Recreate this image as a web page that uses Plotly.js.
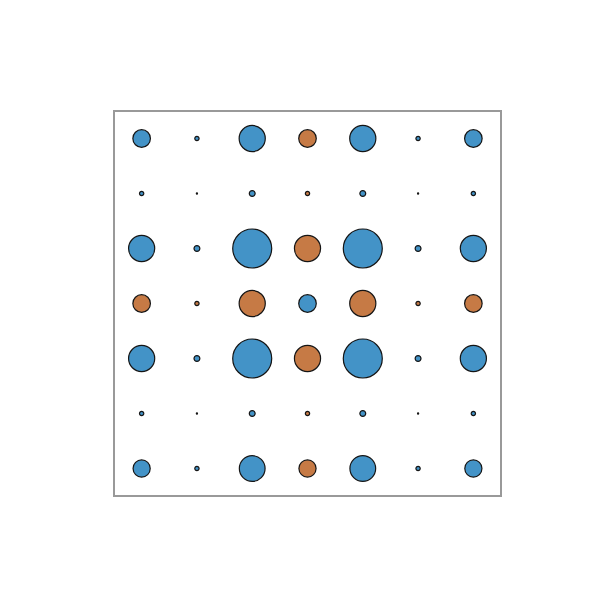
<!DOCTYPE html>
<html>
<head>
<meta charset="utf-8">
<script src="https://cdn.plot.ly/plotly-3.0.1.min.js"></script>
<style>html,body{margin:0;padding:0;background:#fff;}#chart{width:600px;height:600px;}</style>
</head>
<body>
<div id="chart"></div>
<script>
// Matrix values (rows top to bottom, columns left to right)
const rowLabels = [0, 1, 2, 3, 4, 5, 6];
const colLabels = [0, 1, 2, 3, 4, 5, 6];
const row0 = [0.45, 0.11, 0.67, -0.45, 0.67, 0.11, 0.45];
const row1 = [0.11, 0.03, 0.15, -0.11, 0.15, 0.03, 0.11];
const row2 = [0.67, 0.15, 1.00, -0.67, 1.00, 0.15, 0.67];
const row3 = [-0.45, -0.11, -0.67, 0.45, -0.67, -0.11, -0.45];
const row4 = [0.67, 0.15, 1.00, -0.67, 1.00, 0.15, 0.67];
const row5 = [0.11, 0.03, 0.15, -0.11, 0.15, 0.03, 0.11];
const row6 = [0.44, 0.11, 0.66, -0.44, 0.66, 0.11, 0.44];
const matrix = [row0, row1, row2, row3, row4, row5, row6];

const posColor = '#4393c7';
const negColor = '#c67a45';
const maxDiameter = 39;

const pos = {x: [], y: [], s: []};
const neg = {x: [], y: [], s: []};
matrix.forEach((row, i) => {
  row.forEach((v, j) => {
    const t = v >= 0 ? pos : neg;
    t.x.push(colLabels[j]);
    t.y.push(rowLabels[i]);
    t.s.push(Math.abs(v) * maxDiameter);
  });
});

function trace(d, color) {
  return {
    type: 'scatter', mode: 'markers', x: d.x, y: d.y,
    marker: {size: d.s, sizemode: 'diameter', color: color, opacity: 1,
             line: {color: '#151515', width: 1.2}},
    hoverinfo: 'skip', showlegend: false, cliponaxis: false
  };
}

const layout = {
  width: 600, height: 600,
  margin: {l: 114, r: 99, t: 111, b: 104},
  paper_bgcolor: '#fff', plot_bgcolor: '#fff',
  xaxis: {range: [-0.5, 6.5], showgrid: false, zeroline: false, showticklabels: false, ticks: '', showline: false},
  yaxis: {range: [6.5, -0.5], showgrid: false, zeroline: false, showticklabels: false, ticks: '', showline: false},
  shapes: [{type: 'rect', xref: 'paper', yref: 'paper', x0: 0, x1: 1, y0: 0, y1: 1,
            line: {color: '#999', width: 2}, layer: 'above'}]
};

Plotly.newPlot('chart', [trace(pos, posColor), trace(neg, negColor)], layout, {displayModeBar: false, staticPlot: true});
</script>
</body>
</html>
